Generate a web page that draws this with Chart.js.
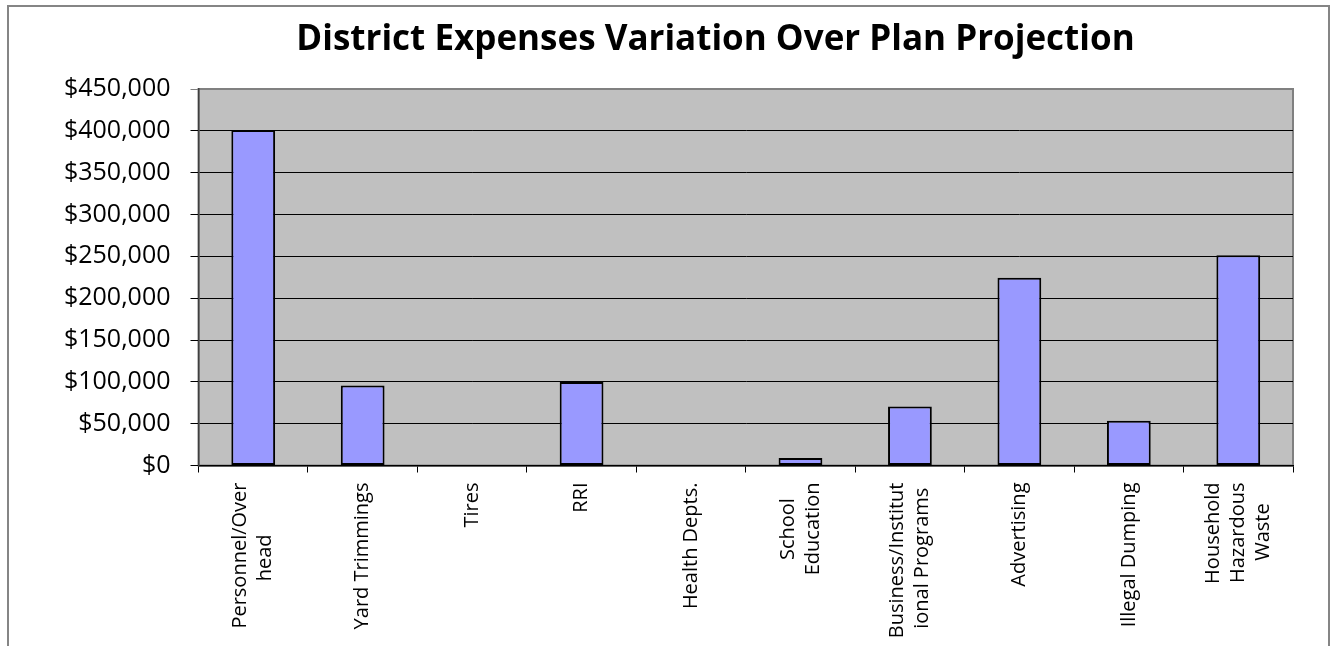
<!DOCTYPE html>
<html>
<head>
<meta charset="utf-8">
<title>District Expenses Variation Over Plan Projection</title>
<script src="https://cdn.jsdelivr.net/npm/chart.js@4.4.1/dist/chart.umd.min.js"></script>
<style>
  html, body { margin: 0; padding: 0; background: #fff; overflow: hidden; }
  #frame { position: absolute; left: 7px; top: 5px; width: 1319px; height: 700px; border: 2px solid #858585; }
  #myBarChart { position: absolute; left: 0; top: 0; }
</style>
</head>
<body>
<div id="frame"></div>
<canvas id="myBarChart" width="1335" height="646"></canvas>
<script>
// Category labels (multi-line ones as arrays)
const categories = [
    ["Personnel/Over", "head"],
    "Yard Trimmings",
    "Tires",
    "RRI",
    "Health Depts.",
    ["School", "Education"],
    ["Business/Institut", "ional Programs"],
    "Advertising",
    "Illegal Dumping",
    ["Household", "Hazardous", "Waste"]
];

// Variation over plan, in dollars
const expenses = [401000, 95600, 0, 99700, 0, 9000, 70500, 224500, 53400, 251400];

// Y axis ticks
const yTickValues = [0, 50000, 100000, 150000, 200000, 250000, 300000, 350000, 400000, 450000];

const TICK_FONT = '20px "Open Sans"';
const LINE_GAP = 12.5; // half of the line spacing

// Lay each label out on half-line slots so the block is centred on its tick,
// and pad short lines so they sit centred along the text direction.
function buildLabels(list) {
    const ctx = document.createElement("canvas").getContext("2d");
    ctx.font = TICK_FONT;
    const spaceW = ctx.measureText(" ").width;

    return list.map(item => {
        const lines = Array.isArray(item) ? item : [item];
        const maxW = Math.max(...lines.map(l => ctx.measureText(l).width));
        const padded = lines.map(l => {
            const n = Math.round((maxW - ctx.measureText(l).width) / 2 / spaceW);
            return l + " ".repeat(Math.max(n, 0));
        });
        const out = [];
        const first = 3 - lines.length; // slot of first line (0..4 grid)
        for (let i = 0; i < first; i++) out.push("");
        padded.forEach((l, i) => {
            if (i > 0) out.push("");
            out.push(l);
        });
        return out;
    });
}

const plotBackground = {
    id: "plotBackground",
    beforeDraw(chart) {
        const { ctx, chartArea: a } = chart;
        ctx.save();
        ctx.fillStyle = "#C0C0C0";
        ctx.fillRect(a.left, a.top, a.right - a.left, a.bottom - a.top);
        ctx.strokeStyle = "#808080";
        ctx.lineWidth = 2;
        ctx.strokeRect(a.left, a.top, a.right - a.left, a.bottom - a.top);
        ctx.restore();
    }
};

function drawChart(labels, data) {
    const ctx = document.getElementById("myBarChart").getContext("2d");

    return new Chart(ctx, {
        type: "bar",
        data: {
            labels: labels,
            datasets: [{
                label: "Variation",
                data: data,
                backgroundColor: "#9999FF",
                borderColor: "#000000",
                borderWidth: 2,
                borderSkipped: false,
                categoryPercentage: 1.0,
                barPercentage: 0.4
            }]
        },
        options: {
            responsive: false,
            animation: false,
            layout: {
                // title is centred a bit right of the canvas middle
                padding: { left: 58, right: -38, top: 0, bottom: 0 }
            },
            plugins: {
                legend: { display: false },
                tooltip: { enabled: false },
                title: {
                    display: true,
                    text: "District Expenses Variation Over Plan Projection",
                    color: "#000",
                    font: { family: "Open Sans", size: 35, weight: "bold" },
                    padding: { top: 19, bottom: 28 }
                }
            },
            scales: {
                x: {
                    type: "category",
                    offset: true,
                    grid: {
                        offset: true,
                        drawOnChartArea: false,
                        drawTicks: true,
                        tickLength: 7,
                        color: "#000"
                    },
                    border: { display: true, color: "#000", width: 1.5 },
                    ticks: {
                        autoSkip: false,
                        maxRotation: 90,
                        minRotation: 90,
                        padding: 10,
                        labelOffset: -2 * LINE_GAP,
                        color: "#000",
                        font: { family: "Open Sans", size: 20, lineHeight: LINE_GAP + "px" }
                    },
                    afterFit(scale) { scale.height = 180.5; }
                },
                y: {
                    min: 0,
                    max: 450000,
                    afterBuildTicks(scale) {
                        scale.ticks = yTickValues.map(v => ({ value: v }));
                    },
                    grid: {
                        color: c => (c.tick && c.tick.value === 450000) ? "#808080" : "#000",
                        lineWidth: 1,
                        drawTicks: true,
                        tickLength: 8
                    },
                    border: { display: true, color: "#404040", width: 1.5 },
                    ticks: {
                        padding: 20,
                        color: "#000",
                        font: { family: "Open Sans", size: 25 },
                        callback: value => "$" + Number(value).toLocaleString("en-US")
                    },
                    afterFit(scale) { scale.width = 140.5; }
                },
                // empty spacer on the right so the plot ends where the reference does
                spacer: {
                    type: "linear",
                    position: "right",
                    display: true,
                    grid: { display: false },
                    border: { display: false },
                    ticks: { display: false },
                    afterFit(scale) { scale.width = 80; }
                }
            }
        },
        plugins: [plotBackground]
    });
}

let myBarChart = drawChart(buildLabels(categories), expenses);
</script>
</body>
</html>
